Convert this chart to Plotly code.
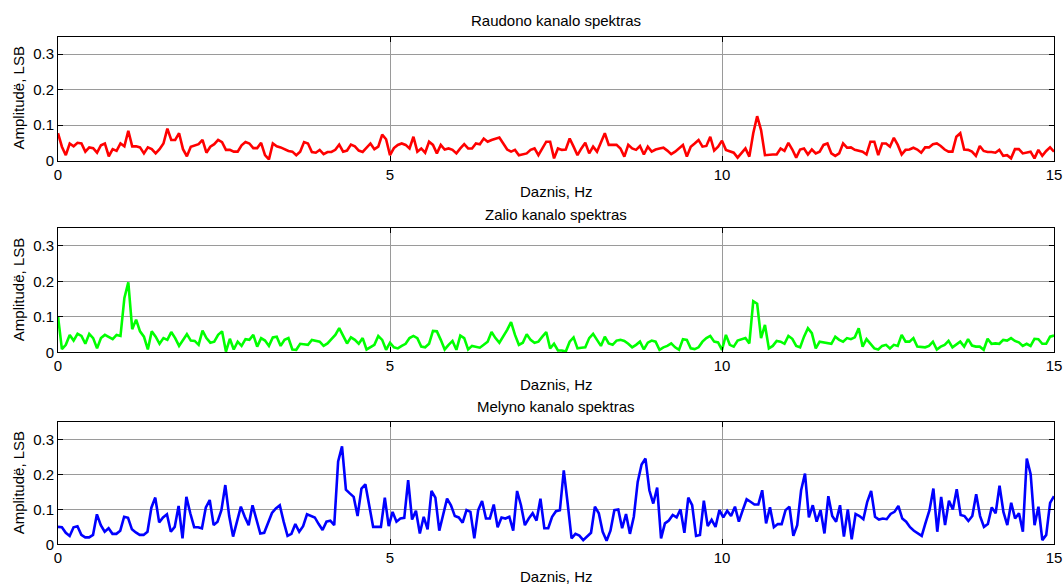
import numpy as np
import plotly.graph_objects as go

# ---- data ----
red_vals = [
    0.077, 0.039, 0.015, 0.048, 0.040, 0.050, 0.048, 0.025, 0.037, 0.035,
    0.022, 0.043, 0.048, 0.012, 0.032, 0.027, 0.048, 0.040, 0.084, 0.040,
    0.040, 0.037, 0.020, 0.037, 0.032, 0.020, 0.032, 0.048, 0.090, 0.058,
    0.058, 0.077, 0.032, 0.012, 0.039, 0.043, 0.046, 0.058, 0.022, 0.039,
    0.046, 0.058, 0.052, 0.030, 0.030, 0.025, 0.025, 0.043, 0.052, 0.048,
    0.035, 0.035, 0.050, 0.015, 0.003, 0.048, 0.040, 0.037, 0.032, 0.027,
    0.025, 0.015, 0.025, 0.052, 0.048, 0.024, 0.022, 0.030, 0.018, 0.024,
    0.024, 0.030, 0.045, 0.025, 0.028, 0.045, 0.040, 0.028, 0.024, 0.037,
    0.048, 0.032, 0.039, 0.073, 0.060, 0.015,
    0.035, 0.044, 0.048, 0.044, 0.034, 0.067, 0.025, 0.034, 0.022, 0.053,
    0.044, 0.020, 0.044, 0.031, 0.034, 0.030, 0.020, 0.034, 0.046, 0.034,
    0.034, 0.048, 0.046, 0.062, 0.053, 0.058, 0.062, 0.065, 0.048, 0.031,
    0.025, 0.030, 0.015, 0.018, 0.020, 0.030, 0.034, 0.015, 0.034, 0.053,
    0.053, 0.006, 0.034, 0.030, 0.031, 0.062, 0.039, 0.015, 0.034, 0.050,
    0.020, 0.039, 0.025, 0.053, 0.077, 0.044, 0.044, 0.044, 0.034, 0.011,
    0.044, 0.034, 0.030, 0.041, 0.017, 0.039, 0.025, 0.031, 0.034, 0.036,
    0.028, 0.018, 0.025, 0.034, 0.044, 0.011, 0.039, 0.048, 0.058, 0.039,
    0.041, 0.067, 0.028, 0.039, 0.056,
    0.030, 0.025, 0.022, 0.008, 0.020, 0.034, 0.011, 0.077, 0.125, 0.086,
    0.015, 0.017, 0.017, 0.017, 0.034, 0.027, 0.050, 0.031, 0.008, 0.031,
    0.034, 0.017, 0.031, 0.020, 0.025, 0.044, 0.048, 0.020, 0.013, 0.020,
    0.048, 0.036, 0.037, 0.030, 0.027, 0.025, 0.017, 0.053, 0.053, 0.015,
    0.048, 0.048, 0.039, 0.064, 0.044, 0.017, 0.030, 0.031, 0.036, 0.031,
    0.022, 0.037, 0.037, 0.046, 0.048, 0.041, 0.031, 0.025, 0.025, 0.067,
    0.077, 0.031, 0.030, 0.025, 0.013, 0.041, 0.027, 0.024, 0.024, 0.022,
    0.030, 0.013, 0.015, 0.006, 0.032, 0.032, 0.020, 0.022, 0.025, 0.006,
    0.030, 0.013, 0.027, 0.037, 0.025,
]

green_vals = [
    0.101, 0.009, 0.021, 0.049, 0.033, 0.052, 0.046, 0.024, 0.052, 0.040,
    0.011, 0.040, 0.049, 0.044, 0.037, 0.049, 0.046, 0.153, 0.197, 0.065,
    0.092, 0.059, 0.044, 0.008, 0.059, 0.044, 0.024, 0.040, 0.035, 0.057,
    0.040, 0.018, 0.035, 0.051, 0.033, 0.032, 0.021, 0.061, 0.040, 0.027,
    0.030, 0.049, 0.059, 0.002, 0.038, 0.008, 0.030, 0.018, 0.037, 0.035,
    0.049, 0.016, 0.040, 0.033, 0.018, 0.042, 0.044, 0.018, 0.035, 0.040,
    0.008, 0.007, 0.024, 0.023, 0.021, 0.035, 0.033, 0.030, 0.018, 0.025,
    0.037, 0.049, 0.068, 0.044, 0.025, 0.042, 0.035, 0.024, 0.040, 0.008,
    0.014, 0.021, 0.046, 0.035, 0.007, 0.027,
    0.014, 0.011, 0.018, 0.024, 0.040, 0.046, 0.040, 0.016, 0.014, 0.024,
    0.060, 0.059, 0.035, 0.008, 0.021, 0.032, 0.007, 0.047, 0.040, 0.008,
    0.018, 0.016, 0.013, 0.021, 0.030, 0.057, 0.040, 0.027, 0.044, 0.063,
    0.085, 0.049, 0.021, 0.027, 0.051, 0.035, 0.027, 0.030, 0.044, 0.057,
    0.011, 0.024, 0.005, 0.005, 0.002, 0.030, 0.042, 0.011, 0.013, 0.014,
    0.040, 0.052, 0.035, 0.018, 0.044, 0.025, 0.021, 0.033, 0.035, 0.032,
    0.024, 0.014, 0.021, 0.030, 0.008, 0.027, 0.033, 0.030, 0.007, 0.014,
    0.018, 0.025, 0.014, 0.007, 0.037, 0.035, 0.011, 0.009, 0.014, 0.030,
    0.040, 0.046, 0.030, 0.028, 0.007,
    0.049, 0.021, 0.016, 0.033, 0.037, 0.040, 0.025, 0.144, 0.137, 0.040,
    0.077, 0.011, 0.018, 0.032, 0.030, 0.024, 0.046, 0.038, 0.018, 0.014,
    0.044, 0.068, 0.054, 0.011, 0.030, 0.028, 0.025, 0.024, 0.044, 0.035,
    0.030, 0.040, 0.037, 0.042, 0.068, 0.016, 0.037, 0.024, 0.011, 0.008,
    0.018, 0.021, 0.011, 0.021, 0.018, 0.049, 0.030, 0.030, 0.040, 0.016,
    0.014, 0.014, 0.018, 0.030, 0.008, 0.016, 0.021, 0.032, 0.014, 0.021,
    0.030, 0.016, 0.037, 0.019, 0.016, 0.016, 0.007, 0.038, 0.024, 0.025,
    0.024, 0.035, 0.033, 0.040, 0.032, 0.028, 0.018, 0.024, 0.018, 0.038,
    0.037, 0.024, 0.024, 0.044, 0.047,
]

blue_vals = [
    0.050, 0.049, 0.033, 0.024, 0.049, 0.052, 0.027, 0.020, 0.020, 0.027,
    0.086, 0.055, 0.036, 0.046, 0.030, 0.030, 0.039, 0.079, 0.076, 0.043,
    0.034, 0.027, 0.027, 0.036, 0.105, 0.134, 0.063, 0.077, 0.086, 0.036,
    0.050, 0.110, 0.017, 0.136, 0.089, 0.049, 0.049, 0.046, 0.106, 0.127,
    0.055, 0.065, 0.098, 0.170, 0.081, 0.022, 0.065, 0.108, 0.079, 0.055,
    0.112, 0.074, 0.031, 0.033, 0.060, 0.090, 0.103, 0.112, 0.065, 0.024,
    0.030, 0.058, 0.036, 0.052, 0.086, 0.081, 0.077, 0.058, 0.041, 0.065,
    0.068, 0.055, 0.238, 0.281, 0.157, 0.146, 0.136, 0.081, 0.160, 0.172,
    0.108, 0.050, 0.050, 0.050, 0.134, 0.052, 0.093,
    0.065, 0.074, 0.076, 0.184, 0.071, 0.096, 0.031, 0.079, 0.043, 0.153,
    0.134, 0.039, 0.084, 0.131, 0.112, 0.081, 0.077, 0.062, 0.098, 0.093,
    0.017, 0.098, 0.124, 0.074, 0.074, 0.114, 0.049, 0.077, 0.074, 0.079,
    0.039, 0.153, 0.112, 0.055, 0.074, 0.089, 0.068, 0.131, 0.046, 0.046,
    0.079, 0.095, 0.098, 0.212, 0.117, 0.017, 0.030, 0.025, 0.012, 0.022,
    0.033, 0.108, 0.089, 0.036, 0.010, 0.039, 0.098, 0.100, 0.046, 0.087,
    0.030, 0.079, 0.179, 0.229, 0.246, 0.155, 0.117, 0.163, 0.017, 0.060,
    0.068, 0.084, 0.077, 0.100, 0.033, 0.134, 0.112, 0.024, 0.027, 0.125,
    0.052, 0.070, 0.050, 0.098, 0.077,
    0.096, 0.081, 0.108, 0.065, 0.098, 0.129, 0.122, 0.114, 0.114, 0.155,
    0.060, 0.106, 0.049, 0.058, 0.058, 0.098, 0.108, 0.024, 0.055, 0.155,
    0.203, 0.077, 0.112, 0.065, 0.098, 0.031, 0.138, 0.081, 0.065, 0.112,
    0.022, 0.100, 0.014, 0.087, 0.081, 0.072, 0.122, 0.153, 0.079, 0.071,
    0.074, 0.072, 0.087, 0.093, 0.110, 0.074, 0.065, 0.049, 0.039, 0.031,
    0.024, 0.062, 0.098, 0.160, 0.036, 0.136, 0.055, 0.125, 0.100, 0.158,
    0.084, 0.081, 0.067, 0.081, 0.144, 0.081, 0.050, 0.058, 0.106, 0.089,
    0.168, 0.093, 0.055, 0.119, 0.074, 0.089, 0.036, 0.246, 0.201, 0.055,
    0.108, 0.012, 0.027, 0.119, 0.138,
]

titles = ["Raudono kanalo spektras", "Zalio kanalo spektras", "Melyno kanalo spektras"]
x_title = "Daznis, Hz"
y_title = "Amplitudë, LSB"
x_ticks = [0, 5, 10, 15]
y_ticks = [0, 0.1, 0.2, 0.3]
y_ticktext = ["0", "0.1", "0.2", "0.3"]
F_MAX = 15

series = [red_vals, green_vals, blue_vals]
colors = ["#ff0000", "#00ff00", "#0000ff"]

W, H = 1064, 585
FONT = "Liberation Sans, Arial, sans-serif"
# panel pixel extents (top, bottom)
panels_px = [(36.5, 160.5), (228.0, 352.3), (422.3, 544.3)]
title_y_px = [21, 214, 406]
xlab_y_px = [192, 384, 576]

fig = go.Figure()
annotations = []
for i, (vals, col) in enumerate(zip(series, colors)):
    n = i + 1
    xs = np.linspace(0, F_MAX, len(vals))
    fig.add_trace(go.Scatter(
        x=xs, y=vals, mode="lines",
        line=dict(color=col, width=2.6),
        xaxis="x" if n == 1 else f"x{n}",
        yaxis="y" if n == 1 else f"y{n}",
        showlegend=False, hoverinfo="skip",
    ))
    top, bot = panels_px[i]
    dom = [1 - bot / H, 1 - top / H]
    axcommon = dict(
        showline=True, linecolor="black", linewidth=1, mirror="ticks",
        ticks="inside", ticklen=5, tickcolor="black", tickwidth=1,
        showgrid=True, gridcolor="#9a9a9a", gridwidth=1,
        zeroline=False, automargin=False,
        tickfont=dict(family=FONT, size=15, color="black"),
    )
    xa = dict(axcommon, domain=[0, 1], range=[0, F_MAX], tickvals=x_ticks,
              anchor="y" if n == 1 else f"y{n}")
    ya = dict(axcommon, domain=dom, range=[0, 0.35], tickvals=y_ticks,
              ticktext=y_ticktext, anchor="x" if n == 1 else f"x{n}")
    fig.update_layout(**{("xaxis" if n == 1 else f"xaxis{n}"): xa,
                         ("yaxis" if n == 1 else f"yaxis{n}"): ya})
    annotations.append(dict(text=titles[i], xref="paper", yref="paper",
                            x=0.5, y=1 - title_y_px[i] / H, xanchor="center",
                            yanchor="middle", showarrow=False,
                            font=dict(family=FONT, size=15, color="black")))
    annotations.append(dict(text=x_title, xref="paper", yref="paper",
                            x=0.5, y=1 - xlab_y_px[i] / H, xanchor="center",
                            yanchor="middle", showarrow=False,
                            font=dict(family=FONT, size=15, color="black")))
    annotations.append(dict(text=y_title, xref="paper", yref="paper",
                            x=(18 - 58) / 996, y=(dom[0] + dom[1]) / 2,
                            xanchor="center", yanchor="middle", textangle=-90,
                            showarrow=False,
                            font=dict(family=FONT, size=15, color="black")))

fig.update_layout(
    width=W, height=H,
    margin=dict(l=58, r=10, t=0, b=0, autoexpand=False),
    paper_bgcolor="white", plot_bgcolor="white",
    annotations=annotations,
)

fig.write_html("out.html")
